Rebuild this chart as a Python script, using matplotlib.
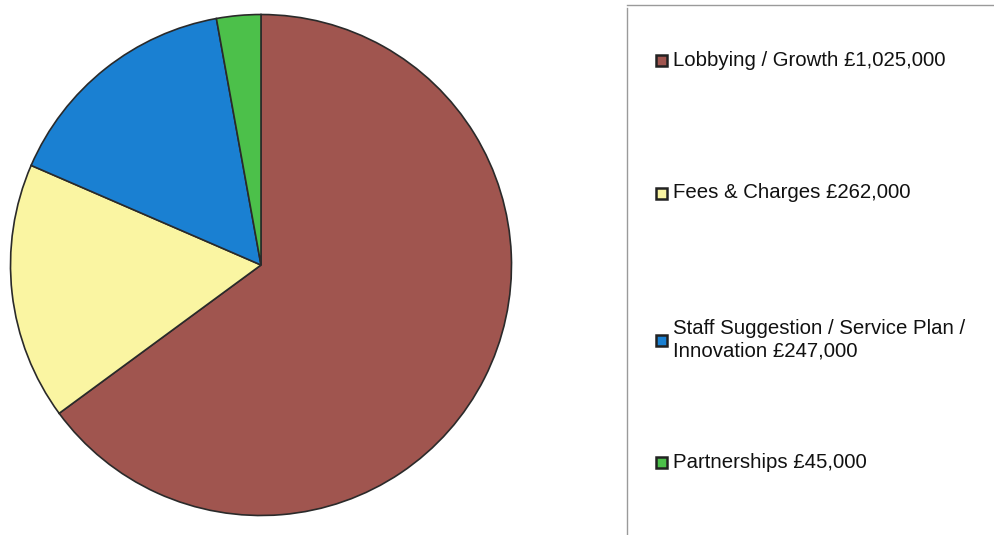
import matplotlib
matplotlib.use("Agg")
import matplotlib.pyplot as plt
from matplotlib.patches import Rectangle
from matplotlib.lines import Line2D

labels = ["Lobbying / Growth £1,025,000",
          "Fees & Charges £262,000",
          "Staff Suggestion / Service Plan /\nInnovation £247,000",
          "Partnerships £45,000"]
values = [1025000, 262000, 247000, 45000]
colors = ["#A0554F", "#FAF5A2", "#1A80D2", "#4CC04A"]

W, H = 995, 535
fig = plt.figure(figsize=(W / 100, H / 100), dpi=100)
plt.rcParams['font.family'] = ['Liberation Sans', 'DejaVu Sans']

cx, cy, r = 261, 265, 253
ax = fig.add_axes([(cx - r) / W, (H - cy - r) / H, 2 * r / W, 2 * r / H])
ax.pie(values, colors=colors, startangle=90, counterclock=False,
       wedgeprops=dict(edgecolor="#2a2a2a", linewidth=1.2))
ax.set_aspect("equal")
ax.set_xlim(-1.01, 1.01)
ax.set_ylim(-1.01, 1.01)

# legend frame lines
fig.add_artist(Line2D([627 / W, 627 / W], [1 - 8 / H, 0], transform=fig.transFigure,
                      color="#9a9a9a", linewidth=1))
fig.add_artist(Line2D([627 / W, 1], [1 - 5 / H, 1 - 5 / H], transform=fig.transFigure,
                      color="#9a9a9a", linewidth=1))

# legend entries
ys = [60, 193, 340, 462]
for lab, col, y in zip(labels, colors, ys):
    fig.add_artist(Rectangle((656 / W, 1 - (y + 6) / H), 11 / W, 11 / H,
                             transform=fig.transFigure, facecolor=col,
                             edgecolor="#222222", linewidth=1.8))
    fig.text(673 / W, 1 - y / H, lab, fontsize=14.7, va="center", ha="left",
             color="#111111", linespacing=1.25)

fig.savefig("out.png", dpi=100)
